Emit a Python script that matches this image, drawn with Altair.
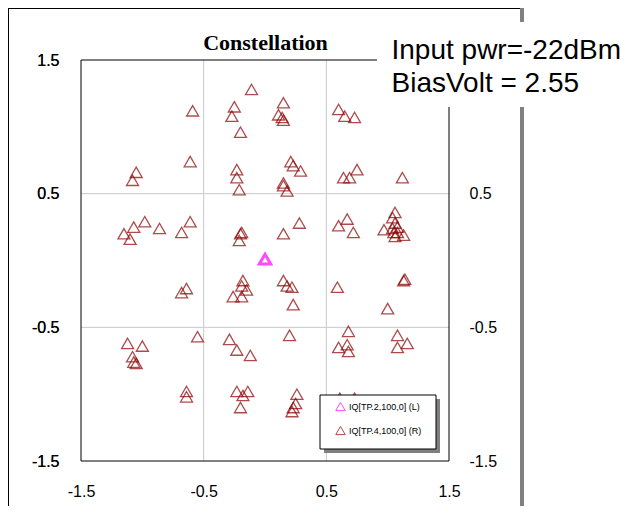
import altair as alt
import pandas as pd

# ---- data ----
x_red = [-0.59, -0.61, -1.05, -1.08, -0.11, -0.25, -0.27, -0.20, -0.23, -0.23,
         -0.21, 0.15, 0.11, 0.14, 0.15, 0.60, 0.65, 0.73, 0.21, 0.23,
         0.29, 0.64, 0.69, 0.75, 1.12, 0.15, 0.15, 0.18, -1.15, -1.07,
         -0.98, -0.86, -1.10, -0.68, -0.61, -0.19, -0.20, -0.21, 0.28, 0.15,
         0.67, 0.60, 0.72, 1.06, 1.04, 1.06, 1.08, 0.97, 1.04, 1.08,
         1.05, 1.13, 1.06, -0.18, -0.19, -0.15, -0.26, -0.19, -0.68, -0.64,
         0.15, 0.18, 0.22, 0.23, 0.59, 1.14, 1.13, 1.00, -1.12, -1.00,
         -1.08, -1.07, -1.05, -0.55, -0.29, -0.23, -0.12, 0.20, 0.68, 0.60,
         0.67, 0.68, 1.08, 1.08, 1.16, -0.64, -0.64, -0.23, -0.14, -0.18,
         -0.20, 0.26, 0.25, 0.23, 0.22, 0.61, 0.73]
y_red = [1.12, 0.74, 0.66, 0.60, 1.28, 1.15, 1.08, 0.96, 0.68, 0.62,
         0.53, 1.18, 1.09, 1.07, 1.05, 1.13, 1.08, 1.07, 0.74, 0.71,
         0.67, 0.62, 0.62, 0.68, 0.62, 0.58, 0.56, 0.52, 0.20, 0.25,
         0.29, 0.24, 0.16, 0.21, 0.29, 0.21, 0.20, 0.15, 0.28, 0.20,
         0.31, 0.26, 0.21, 0.36, 0.32, 0.28, 0.25, 0.23, 0.24, 0.21,
         0.21, 0.19, 0.18, -0.15, -0.19, -0.22, -0.27, -0.27, -0.24, -0.21,
         -0.15, -0.19, -0.20, -0.33, -0.20, -0.14, -0.15, -0.36, -0.62, -0.64,
         -0.72, -0.76, -0.77, -0.57, -0.59, -0.67, -0.71, -0.56, -0.53, -0.65,
         -0.63, -0.68, -0.56, -0.65, -0.62, -0.98, -1.02, -0.98, -0.98, -1.01,
         -1.10, -1.00, -1.07, -1.10, -1.13, -1.03, -1.03]
x_mag = [0.00]
y_mag = [0.01]

series_names = ["IQ[TP.2,100,0] (L)", "IQ[TP.4,100,0] (R)"]
series_colors = ["#ff00ff", "#8b0000"]

axis_ticks = [-1.5, -0.5, 0.5, 1.5]
right_ticks = [-1.5, -0.5, 0.5]   # the top label is hidden by the note box in the reference
grid_vals = [-0.5, 0.5]
title_text = "Constellation"
note_lines = ["Input pwr=-22dBm", "BiasVolt = 2.55"]

W, H = 368, 401

red_df = pd.DataFrame({"x": x_red, "y": y_red, "series": [series_names[1]] * len(x_red)})
mag_df = pd.DataFrame({"x": x_mag, "y": y_mag, "series": [series_names[0]] * len(x_mag)})
gx = pd.DataFrame({"gx": grid_vals})
gy = pd.DataFrame({"gy": grid_vals})
one = pd.DataFrame({"k": [0]})

xscale = alt.Scale(domain=[-1.5, 1.5], nice=False, zero=False)
yscale = alt.Scale(domain=[-1.5, 1.5], nice=False, zero=False)
lab = "datum.value < 0 ? '-' + format(abs(datum.value), '.1f') : format(datum.value, '.1f')"

common = dict(labelExpr=lab, title=None, grid=False, ticks=False,
              tickSize=0, domain=False, labelFont="Liberation Sans", labelFontSize=16,
              labelColor="black", labelFlush=False, labelOverlap=False)
xaxis = alt.Axis(orient="bottom", values=axis_ticks, labelPadding=22, **common)
yaxis_l = alt.Axis(orient="left", values=axis_ticks, labelPadding=22, **common)
yaxis_r = alt.Axis(orient="right", values=right_ticks, labelPadding=20, **common)

legend = alt.Legend(orient="none", legendX=254, legendY=341, title=None,
                    labelFont="Liberation Sans", labelFontSize=9,
                    labelColor="black", symbolType="triangle-up",
                    symbolSize=90, symbolStrokeWidth=1,
                    symbolFillColor="transparent",
                    rowPadding=11, labelOffset=3, padding=0)
color = alt.Color("series:N", scale=alt.Scale(domain=series_names, range=series_colors),
                  legend=legend)

# outer frame
frame_left = alt.Chart(one).mark_rule(color="black", strokeWidth=1).encode(
    x=alt.value(-72.5), y=alt.value(-52), y2=alt.value(446))
frame_top = alt.Chart(one).mark_rule(color="black", strokeWidth=1).encode(
    x=alt.value(-73), x2=alt.value(443), y=alt.value(-51.5))
frame_right = alt.Chart(one).mark_rule(color="#808080", strokeWidth=4).encode(
    x=alt.value(441), y=alt.value(-52), y2=alt.value(446))

grid_y = alt.Chart(gy).mark_rule(color="#c8c8c8", strokeWidth=1).encode(
    y=alt.Y("gy:Q", scale=yscale, axis=yaxis_r))
grid_x = alt.Chart(gx).mark_rule(color="#c8c8c8", strokeWidth=1).encode(
    x=alt.X("gx:Q", scale=xscale, axis=xaxis))

border = alt.Chart(one).mark_rect(fill="transparent", stroke="black", strokeWidth=1).encode(
    x=alt.value(0), x2=alt.value(W), y=alt.value(0), y2=alt.value(H))

red_pts = alt.Chart(red_df).mark_point(shape="triangle-up", size=144, filled=False,
                                       strokeWidth=1.3).encode(
    x=alt.X("x:Q", scale=xscale, axis=xaxis),
    y=alt.Y("y:Q", scale=yscale, axis=yaxis_l),
    color=color,
)
mag_pts = alt.Chart(mag_df).mark_point(shape="triangle-up", size=130, filled=False,
                                       strokeWidth=3).encode(
    x=alt.X("x:Q", scale=xscale, axis=xaxis),
    y=alt.Y("y:Q", scale=yscale, axis=yaxis_l),
    color=color,
)

leg_shadow = alt.Chart(one).mark_rect(fill="#808080").encode(
    x=alt.value(243), x2=alt.value(359), y=alt.value(339), y2=alt.value(393))
leg_box = alt.Chart(one).mark_rect(fill="white", stroke="black", strokeWidth=1).encode(
    x=alt.value(239), x2=alt.value(355), y=alt.value(335), y2=alt.value(389))

note_bg = alt.Chart(one).mark_rect(fill="white").encode(
    x=alt.value(296), x2=alt.value(560), y=alt.value(-38), y2=alt.value(47))

title = alt.Chart(one).mark_text(text=title_text, font="Liberation Serif", fontWeight="bold",
                                 fontSize=22, align="center", baseline="alphabetic",
                                 color="black").encode(
    x=alt.value(184.5), y=alt.value(-10))
note1 = alt.Chart(one).mark_text(text=note_lines[0], font="Liberation Sans", fontSize=28,
                                 align="left", baseline="alphabetic", color="black").encode(
    x=alt.value(310.5), y=alt.value(-1))
note2 = alt.Chart(one).mark_text(text=note_lines[1], font="Liberation Sans", fontSize=28,
                                 align="left", baseline="alphabetic", color="black").encode(
    x=alt.value(310.5), y=alt.value(32))

chart = alt.layer(
    frame_left, frame_top, frame_right, grid_y, grid_x, border, red_pts, mag_pts,
    leg_shadow, leg_box, note_bg, title, note1, note2
).resolve_axis(y="independent").properties(
    width=W, height=H,
    autosize=alt.AutoSizeParams(type="none"),
    padding={"left": 73, "top": 52, "right": 180, "bottom": 45},
    background="white",
).configure_view(strokeWidth=0)

chart.save("out.html", embed_options={"renderer": "svg", "actions": False})
